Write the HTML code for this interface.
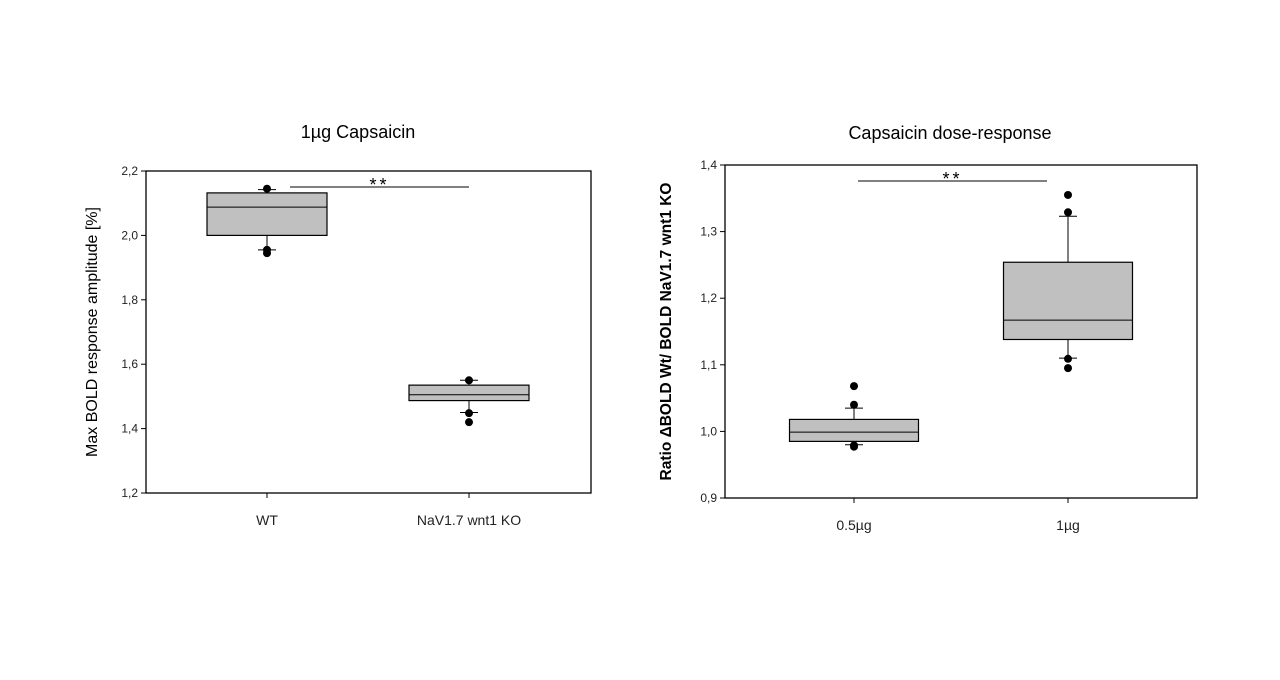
<!DOCTYPE html>
<html><head><meta charset="utf-8"><style>
body{margin:0;background:#fff}
svg{display:block;font-family:"Liberation Sans",Arial,sans-serif}
</style></head><body>
<svg id="svg" width="1280" height="680"></svg>
<script>
const cats1 = ["WT","NaV1.7 wnt1 KO"];
const q1_1 = [2.0, 1.487];
const med1 = [2.088, 1.505];
const q3_1 = [2.132, 1.535];
const wLo1 = [1.955, 1.45];
const wHi1 = [2.142, 1.55];
const out1 = [[2.145,1.955,1.945],[1.55,1.448,1.42]];
const ticks1 = [1.2,1.4,1.6,1.8,2.0,2.2];
const tickLbl1 = ["1,2","1,4","1,6","1,8","2,0","2,2"];

const cats2 = ["0.5µg","1µg"];
const q1_2 = [0.985, 1.138];
const med2 = [0.999, 1.167];
const q3_2 = [1.018, 1.254];
const wLo2 = [0.98, 1.11];
const wHi2 = [1.035, 1.323];
const out2 = [[1.068,1.04,0.979,0.977],[1.355,1.329,1.109,1.095]];
const ticks2 = [0.9,1.0,1.1,1.2,1.3,1.4];
const tickLbl2 = ["0,9","1,0","1,1","1,2","1,3","1,4"];

const NS="http://www.w3.org/2000/svg";
const svg=document.getElementById('svg');
function mk(t,a,p){const e=document.createElementNS(NS,t);for(const k in a)e.setAttribute(k,a[k]);(p||svg).appendChild(e);return e;}

function chart(o){
  const g=mk('g',{});
  
  
  const y=v=>o.y1-(v-o.min)/(o.max-o.min)*(o.y1-o.y0);
  const x=i=>o.cx[i];
  const ttl=mk('text',{x:o.tx,y:o.ty,'text-anchor':'middle','font-size':18,fill:'#000'},g);
  ttl.textContent=o.title;
  
  
  const yt=mk('text',{x:0,y:0,'text-anchor':'middle','font-size':o.yfs,'font-weight':o.yfw,fill:'#000',transform:`translate(${o.ytx},${(o.y0+o.y1)/2}) rotate(-90)`},g);
  yt.textContent=o.ytitle;
  
  
  const fr=mk('rect',{x:o.x0,y:o.y0,width:o.x1-o.x0,height:o.y1-o.y0,fill:'none',stroke:'#000','stroke-width':1.3},g);
  
  
  o.ticks.forEach((t,i)=>{
    mk('line',{x1:o.x0-5,x2:o.x0,y1:y(t),y2:y(t),stroke:'#000'},g);
    const l=mk('text',{x:o.x0-8,y:y(t)+4,'text-anchor':'end','font-size':12,fill:'#222'},g);
    l.textContent=o.tickLbl[i];
    
    
  });
  o.cats.forEach((c,i)=>{
    mk('line',{x1:x(i),x2:x(i),y1:o.y1,y2:o.y1+5,stroke:'#000'},g);
    const l=mk('text',{x:x(i),y:o.y1+32,'text-anchor':'middle','font-size':14,fill:'#222'},g);
    l.textContent=c;
    
    
    const hw=o.bw/2;
    const bg=mk('g',{},g);
    
    
    mk('line',{x1:x(i),x2:x(i),y1:y(o.wHi[i]),y2:y(o.q3[i]),stroke:'#000'},bg);
    mk('line',{x1:x(i),x2:x(i),y1:y(o.q1[i]),y2:y(o.wLo[i]),stroke:'#000'},bg);
    mk('line',{x1:x(i)-9,x2:x(i)+9,y1:y(o.wHi[i]),y2:y(o.wHi[i]),stroke:'#000'},bg);
    mk('line',{x1:x(i)-9,x2:x(i)+9,y1:y(o.wLo[i]),y2:y(o.wLo[i]),stroke:'#000'},bg);
    mk('rect',{x:x(i)-hw,y:y(o.q3[i]),width:o.bw,height:y(o.q1[i])-y(o.q3[i]),fill:'#c0c0c0',stroke:'#000','stroke-width':1.2},bg);
    mk('line',{x1:x(i)-hw,x2:x(i)+hw,y1:y(o.med[i]),y2:y(o.med[i]),stroke:'#000'},bg);
    o.out[i].forEach(v=>{
      const d=mk('circle',{cx:x(i),cy:y(v),r:4,fill:'#000'},bg);
      
      
    });
  });
  const s=mk('line',{x1:o.sx0,x2:o.sx1,y1:o.sy,y2:o.sy,stroke:'#000'},g);
  
  
  const st=mk('text',{x:(o.sx0+o.sx1)/2,y:o.sy+4,'text-anchor':'middle','font-size':18,'letter-spacing':3,fill:'#000'},g);
  st.textContent='**';
  
  
}
chart({name:'left-chart',title:'1µg Capsaicin',tx:358,ty:138,ytitle:'Max BOLD response amplitude [%]',ytx:97,yfs:16,yfw:'normal',
  x0:146,x1:591,y0:171,y1:493,min:1.2,max:2.2,cx:[267,469],bw:120,
  cats:cats1,q1:q1_1,med:med1,q3:q3_1,wLo:wLo1,wHi:wHi1,out:out1,ticks:ticks1,tickLbl:tickLbl1,
  sx0:290,sx1:469,sy:187});
chart({name:'right-chart',title:'Capsaicin dose-response',tx:950,ty:139,ytitle:'Ratio ΔBOLD Wt/ BOLD NaV1.7 wnt1 KO',ytx:671,yfs:15.5,yfw:'bold',
  x0:725,x1:1197,y0:165,y1:498,min:0.9,max:1.4,cx:[854,1068],bw:129,
  cats:cats2,q1:q1_2,med:med2,q3:q3_2,wLo:wLo2,wHi:wHi2,out:out2,ticks:ticks2,tickLbl:tickLbl2,
  sx0:858,sx1:1047,sy:181});
</script>
</body></html>
